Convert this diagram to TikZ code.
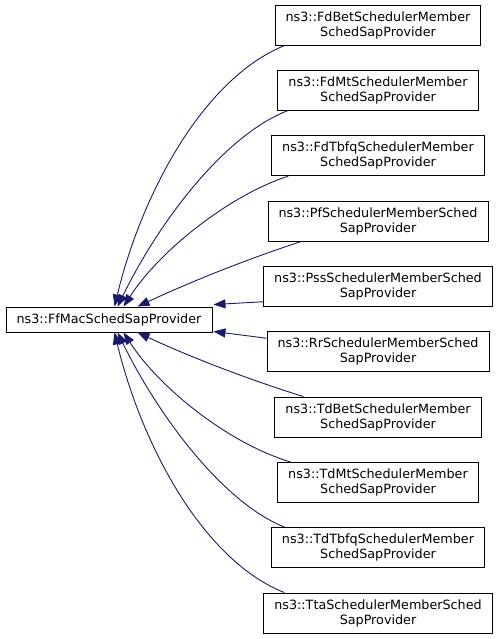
\documentclass[tikz,border=0pt]{standalone}
\usepackage{fontspec}
\setmainfont{DejaVu Sans}
\usetikzlibrary{arrows.meta,calc}
\definecolor{edgeblue}{HTML}{191970}
\begin{document}
\begin{tikzpicture}[x=1pt,y=-1pt,
  cls/.style={draw=black, line width=0.9pt, fill=white,
    font=\fontsize{12.75}{15}\selectfont, align=center,
    inner xsep=10.5pt, inner ysep=0pt, minimum height=40pt},
  inh/.style={draw=edgeblue, line width=0.9pt,
    -{Triangle[length=12pt,width=9pt]}}]
\useasboundingbox (0,0) rectangle (499,639);
\node[cls, minimum width=206pt, minimum height=25pt, inner xsep=0pt] (base) at (109,319.5) {ns3::FfMacSchedSapProvider};
\node[cls] (c1) at (378,25) {ns3::FdBetSchedulerMember\\SchedSapProvider};
\node[cls] (c2) at (378,90.3) {ns3::FdMtSchedulerMember\\SchedSapProvider};
\node[cls] (c3) at (378,155.7) {ns3::FdTbfqSchedulerMember\\SchedSapProvider};
\node[cls] (c4) at (378,221) {ns3::PfSchedulerMemberSched\\SapProvider};
\node[cls] (c5) at (378,286.3) {ns3::PssSchedulerMemberSched\\SapProvider};
\node[cls] (c6) at (378,351.7) {ns3::RrSchedulerMemberSched\\SapProvider};
\node[cls] (c7) at (378,417) {ns3::TdBetSchedulerMember\\SchedSapProvider};
\node[cls] (c8) at (378,482.3) {ns3::TdMtSchedulerMember\\SchedSapProvider};
\node[cls] (c9) at (378,547.7) {ns3::TdTbfqSchedulerMember\\SchedSapProvider};
\node[cls] (c10) at (378,613) {ns3::TtaSchedulerMemberSched\\SapProvider};
\draw[inh] ($(c1.south west)+(10,0)$) .. controls (200,80) and (140,200) .. ($(base.north west)+(109,0)$);
\draw[inh] ($(c2.south west)+(10,0)$) .. controls (225,135) and (160,220) .. ($(base.north west)+(112,0)$);
\draw[inh] ($(c3.south west)+(17,0)$) .. controls (230,195) and (160,250) .. ($(base.north west)+(118,0)$);
\draw[inh] ($(c4.south west)+(34,0)$) .. controls (250,258) and (190,282) .. ($(base.north west)+(132,0)$);
\draw[inh] ($(c5.south west)+(0,-5)$) -- ($(base.north east)+(1,-2)$);
\draw[inh] ($(c6.north west)+(0,7)$) -- ($(base.south east)+(1,-1)$);
\draw[inh] ($(c7.north west)+(29,0)$) .. controls (250,380) and (190,357) .. ($(base.south west)+(132,0)$);
\draw[inh] ($(c8.north west)+(13,0)$) .. controls (230,444) and (160,389) .. ($(base.south west)+(118,0)$);
\draw[inh] ($(c9.north west)+(14,0)$) .. controls (225,504) and (160,419) .. ($(base.south west)+(112,0)$);
\draw[inh] ($(c10.north west)+(21,0)$) .. controls (200,559) and (140,439) .. ($(base.south west)+(109,0)$);
\end{tikzpicture}
\end{document}
